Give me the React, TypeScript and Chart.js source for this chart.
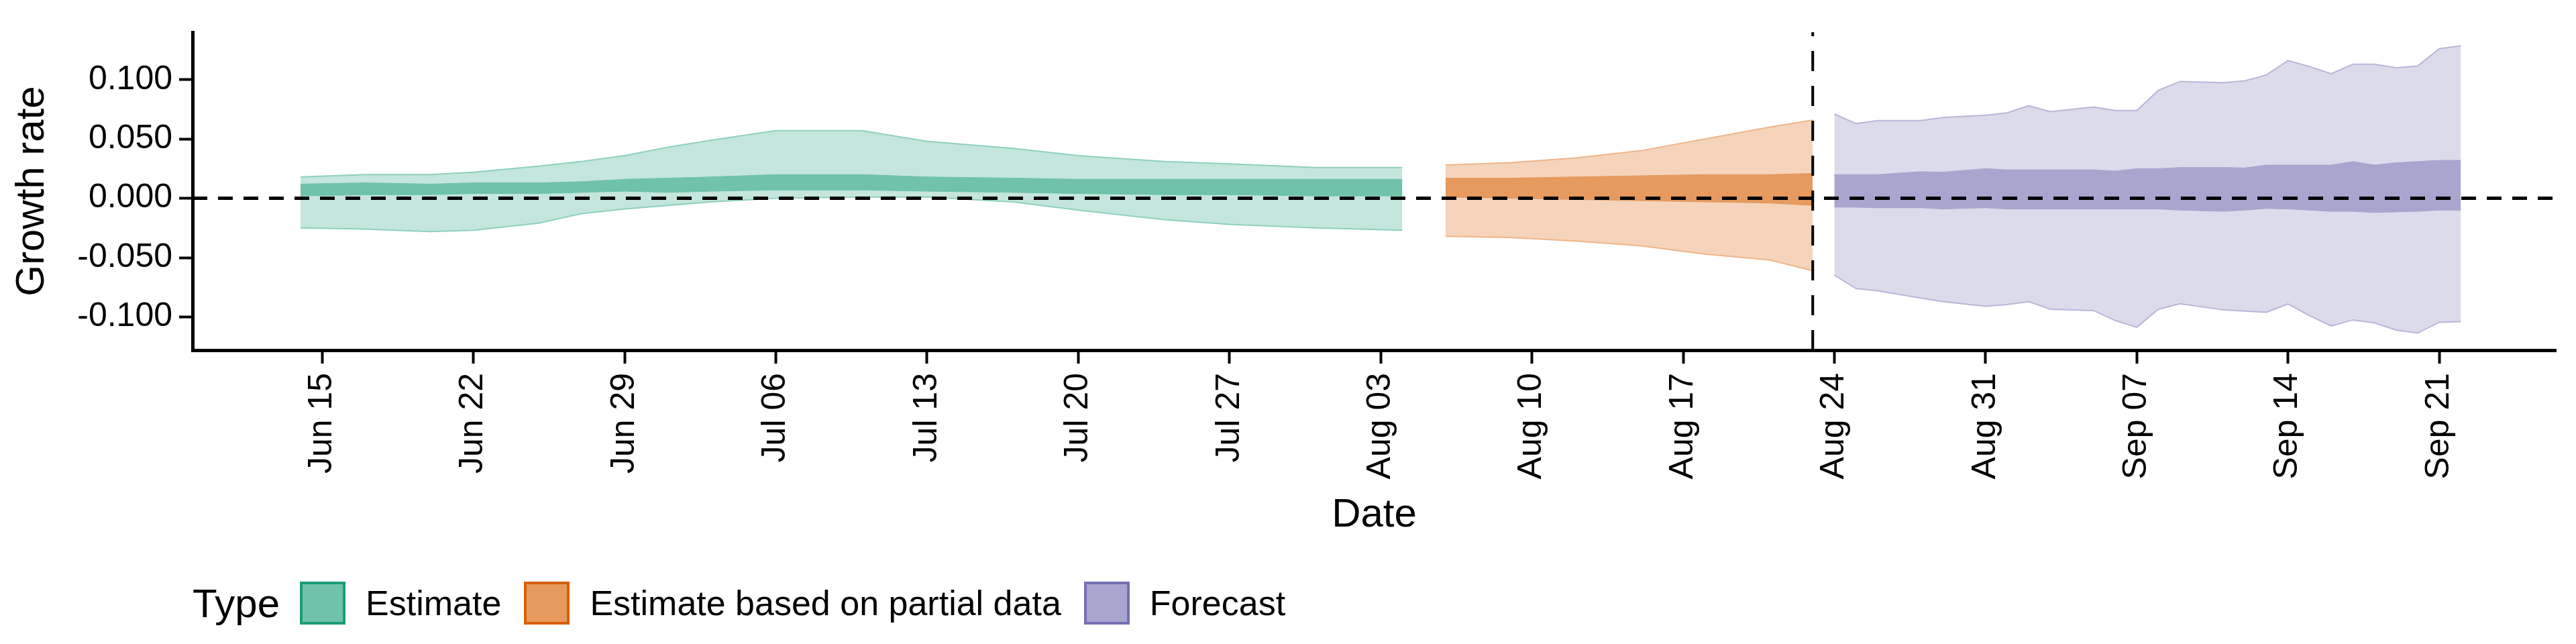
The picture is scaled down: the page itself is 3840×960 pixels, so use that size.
import React, { useEffect, useRef } from 'react';
import { Chart, registerables } from 'chart.js';

Chart.register(...registerables);

// day 0 = Jun 15
const estDays = [-1, 2, 5, 7, 10, 12, 14, 16, 18, 21, 25, 28, 32, 35, 39, 42, 46, 50];
const estUpper90 = [0.018, 0.02, 0.02, 0.022, 0.027, 0.031, 0.036, 0.043, 0.049, 0.057, 0.057, 0.048, 0.042, 0.036, 0.031, 0.029, 0.026, 0.026];
const estLower90 = [-0.025, -0.026, -0.028, -0.027, -0.021, -0.013, -0.009, -0.006, -0.003, 0.0, 0.001, 0.001, -0.003, -0.01, -0.018, -0.022, -0.025, -0.027];
const estUpper50 = [0.012, 0.013, 0.012, 0.013, 0.013, 0.014, 0.016, 0.017, 0.018, 0.02, 0.02, 0.018, 0.017, 0.016, 0.016, 0.016, 0.016, 0.016];
const estLower50 = [0.002, 0.003, 0.003, 0.004, 0.004, 0.005, 0.006, 0.005, 0.006, 0.007, 0.007, 0.006, 0.005, 0.004, 0.003, 0.003, 0.002, 0.002];

const partDays = [52, 55, 58, 61, 64, 67, 69];
const partUpper90 = [0.028, 0.03, 0.034, 0.04, 0.05, 0.06, 0.066];
const partLower90 = [-0.032, -0.033, -0.036, -0.04, -0.047, -0.052, -0.061];
const partUpper50 = [0.017, 0.017, 0.018, 0.019, 0.02, 0.02, 0.021];
const partLower50 = [0.001, 0.0, -0.001, -0.002, -0.003, -0.004, -0.006];

const fcDays = [70, 71, 72, 74, 75, 77, 78, 79, 80, 82, 83, 84, 85, 86, 88, 89, 90, 91, 92, 93, 94, 95, 96, 97, 98, 99];
const fcUpper90 = [0.071, 0.063, 0.0655, 0.0655, 0.068, 0.07, 0.072, 0.078, 0.073, 0.077, 0.074, 0.074, 0.091, 0.0985, 0.0975, 0.099, 0.104, 0.116, 0.111, 0.105, 0.113, 0.113, 0.11, 0.1115, 0.126, 0.1285];
const fcLower90 = [-0.0647, -0.076, -0.078, -0.084, -0.087, -0.091, -0.0895, -0.087, -0.0935, -0.0946, -0.103, -0.1087, -0.0935, -0.0888, -0.094, -0.095, -0.096, -0.089, -0.099, -0.1076, -0.1025, -0.105, -0.111, -0.1136, -0.1045, -0.104];
const fcUpper50 = [0.02, 0.02, 0.02, 0.0225, 0.022, 0.025, 0.024, 0.024, 0.024, 0.024, 0.023, 0.025, 0.025, 0.026, 0.026, 0.0256, 0.028, 0.028, 0.028, 0.028, 0.031, 0.028, 0.03, 0.031, 0.032, 0.032];
const fcLower50 = [-0.0074, -0.0075, -0.008, -0.008, -0.009, -0.008, -0.009, -0.009, -0.009, -0.009, -0.009, -0.009, -0.009, -0.01, -0.011, -0.01, -0.0085, -0.009, -0.01, -0.011, -0.011, -0.012, -0.0115, -0.011, -0.01, -0.01];

const xTicks = [0, 7, 14, 21, 28, 35, 42, 49, 56, 63, 70, 77, 84, 91, 98];
const yTicks = [-0.1, -0.05, 0, 0.05, 0.1];
const cutoffDay = 69;

const MONTHS = ['Jan', 'Feb', 'Mar', 'Apr', 'May', 'Jun', 'Jul', 'Aug', 'Sep', 'Oct', 'Nov', 'Dec'];
const dayLabel = (v: number) => {
  const d = new Date(2020, 5, 15 + v);
  return `${MONTHS[d.getMonth()]} ${String(d.getDate()).padStart(2, '0')}`;
};

const FONT = '"Liberation Sans", Arial, sans-serif';

const pts = (xs: number[], ys: number[]) => xs.map((x, i) => ({ x, y: ys[i] }));

// lower index / lower order is drawn on top, so inner bands get order 1
const band = (xs: number[], lo: number[], hi: number[], fill: string, border: string, bw: number, order: number) => [
  { data: pts(xs, lo), order, borderColor: border, borderWidth: bw, backgroundColor: fill, pointRadius: 0, fill: false, tension: 0 },
  { data: pts(xs, hi), order, borderColor: border, borderWidth: bw, backgroundColor: fill, pointRadius: 0, fill: '-1', tension: 0 },
];

const legendItems = [
  { label: 'Estimate', fill: '#70c2aa', border: '#1b9e77' },
  { label: 'Estimate based on partial data', fill: '#e69a5e', border: '#d95f02' },
  { label: 'Forecast', fill: '#a8a5cf', border: '#7570b3' },
];

const App = () => {
  const canvasRef = useRef<HTMLCanvasElement>(null);

  useEffect(() => {
    const canvas = canvasRef.current;
    if (!canvas) return;

    const datasets: any[] = [
      ...band(estDays, estLower90, estUpper90, '#c4e6dc', '#8fd0bd', 2, 3),
      ...band(estDays, estLower50, estUpper50, '#70c2aa', '#70c2aa', 1, 2),
      ...band(partDays, partLower90, partUpper90, '#f5d4bb', '#eeb58a', 2, 3),
      ...band(partDays, partLower50, partUpper50, '#e69a5e', '#e69a5e', 1, 2),
      ...band(fcDays, fcLower90, fcUpper90, '#dcdbeb', '#b9b6d9', 2, 3),
      ...band(fcDays, fcLower50, fcUpper50, '#a8a5cf', '#a8a5cf', 1, 2),
      { data: [{ x: -6, y: 0 }, { x: 103.4, y: 0 }], order: 0, borderColor: '#000', borderWidth: 5, borderDash: [22, 16], pointRadius: 0, fill: false },
      { data: [{ x: cutoffDay, y: -0.128 }, { x: cutoffDay, y: 0.14 }], order: 0, borderColor: '#000', borderWidth: 4, borderDash: [30, 22], pointRadius: 0, fill: false },
    ];

    const chart = new Chart(canvas, {
      type: 'line',
      data: { datasets },
      options: {
        animation: false,
        responsive: false,
        layout: { padding: { top: 21, right: 22 } },
        plugins: { legend: { display: false }, tooltip: { enabled: false } },
        scales: {
          x: {
            type: 'linear',
            min: -6,
            max: 103.4,
            afterBuildTicks: (s: any) => { s.ticks = xTicks.map((v) => ({ value: v })); },
            afterFit: (s: any) => { s.height = 286; },
            ticks: { callback: (v: any) => dayLabel(Number(v)), minRotation: 90, maxRotation: 90, color: '#000', font: { family: FONT, size: 50 }, padding: 14, autoSkip: false },
            grid: { drawOnChartArea: false, drawTicks: true, tickLength: 20, tickWidth: 4, tickColor: '#000' },
            border: { color: '#000', width: 5 },
            title: { display: true, text: 'Date', color: '#000', font: { family: FONT, size: 60 }, padding: { top: 0 } },
          },
          y: {
            min: -0.128,
            max: 0.14,
            afterBuildTicks: (s: any) => { s.ticks = yTicks.map((v) => ({ value: v })); },
            afterFit: (s: any) => { s.width = 279; },
            ticks: { callback: (v: any) => Number(v).toFixed(3), color: '#000', font: { family: FONT, size: 50 }, padding: 10 },
            grid: { drawOnChartArea: false, drawTicks: true, tickLength: 20, tickWidth: 4, tickColor: '#000' },
            border: { color: '#000', width: 5 },
            title: { display: true, text: 'Growth rate', color: '#000', font: { family: FONT, size: 60 }, padding: { bottom: 4 } },
          },
        },
      },
    });

    return () => {
      chart.destroy();
    };
  }, []);

  return (
    <div style={{ width: 3824, fontFamily: FONT }}>
      <canvas ref={canvasRef} width={3824} height={800} style={{ display: 'block' }}></canvas>
      <div style={{ display: 'flex', alignItems: 'center', height: 90, marginTop: 46, paddingLeft: 279, fontSize: 52, color: '#000' }}>
        <span style={{ fontSize: 60, marginRight: 30 }}>Type</span>
        {legendItems.map((it) => (
          <div key={it.label} style={{ display: 'flex', alignItems: 'center', marginRight: 34 }}>
            <span style={{ width: 68, height: 64, background: it.fill, border: `4px solid ${it.border}`, boxSizing: 'border-box', marginRight: 30 }}></span>
            <span>{it.label}</span>
          </div>
        ))}
      </div>
    </div>
  );
};

export default App;
